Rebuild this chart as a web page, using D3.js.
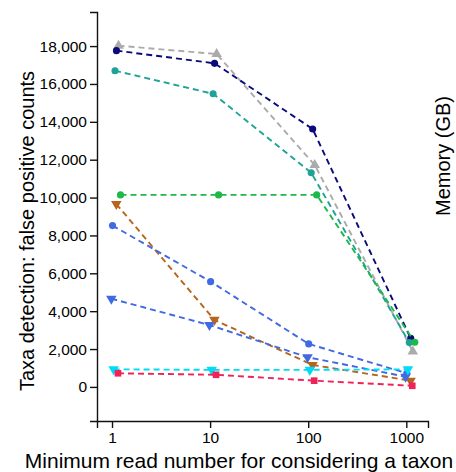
<!DOCTYPE html>
<html>
<head>
<meta charset="utf-8">
<script src="https://cdn.jsdelivr.net/npm/d3@7"></script>
<style>
  body { margin: 0; background: #fff; }
  svg { display: block; font-family: "Liberation Sans", Arial, Helvetica, sans-serif; }
  .axis text { font-size: 15.5px; fill: #000; }
  .axis path, .axis line { stroke: #111; stroke-width: 1.4; }
  .title { fill: #000; }
</style>
</head>
<body>
<svg id="chart" width="456" height="472"></svg>
<script>
// read thresholds
var thresholds = [1, 10, 100, 1000];
var yTicks = [0, 2000, 4000, 6000, 8000, 10000, 12000, 14000, 16000, 18000];

// one array per tool (false positive counts at each threshold)
var grayTri   = [18020, 17580, 11720, 1870];
var navyDot   = [17760, 17090, 13620, 2560];
var tealDot   = [16700, 15480, 11310, 2340];
var greenDot  = [10140, 10140, 10140, 2360];
var brownTri  = [9660, 3540, 1160, 330];
var blueDot   = [8520, 5560, 2270, 720];
var blueTri   = [4660, 3270, 1570, 540];
var cyanTri   = [930, 900, 900, 930];
var redSquare = [720, 640, 330, 60];

// small horizontal offsets so the points don't sit on top of each other
var jitter = [1.165, 1.11, 1.073, 1.22, 1.106, 1.012, 0.984, 1.038, 1.15];

var series = [
  {v: grayTri,   color: "#ababab", shape: "up"},
  {v: navyDot,   color: "#0a0a7a", shape: "circle"},
  {v: tealDot,   color: "#1fa396", shape: "circle"},
  {v: greenDot,  color: "#1db94a", shape: "circle"},
  {v: brownTri,  color: "#b5661c", shape: "down"},
  {v: blueDot,   color: "#4169e1", shape: "circle"},
  {v: blueTri,   color: "#4169e1", shape: "down"},
  {v: cyanTri,   color: "#00dcf5", shape: "down"},
  {v: redSquare, color: "#f0225a", shape: "square"}
];

var svg = d3.select("#chart");

var x = d3.scaleLog().domain([0.703, 1664]).range([97, 428]);
var y = d3.scaleLinear().domain([-1800, 19800]).range([421, 12]);

svg.append("g")
  .attr("class", "axis")
  .attr("transform", "translate(0,421)")
  .call(d3.axisBottom(x).tickValues(thresholds).tickFormat(d3.format("d")).tickSize(7).tickPadding(4));

svg.append("g")
  .attr("class", "axis")
  .attr("transform", "translate(97,0)")
  .call(d3.axisLeft(y).tickValues(yTicks).tickFormat(d3.format(",")).tickSize(7).tickPadding(3));

var line = d3.line()
  .x(function(d) { return x(d.x); })
  .y(function(d) { return y(d.y); });

series.forEach(function(s, i) {
  var pts = s.v.map(function(val, j) { return {x: thresholds[j] * jitter[i], y: val}; });
  svg.append("path")
    .datum(pts)
    .attr("fill", "none")
    .attr("stroke", s.color)
    .attr("stroke-width", 1.9)
    .attr("stroke-dasharray", "6,4")
    .attr("d", line);

  var sym;
  if (s.shape === "circle") sym = d3.symbol().type(d3.symbolCircle).size(40);
  else if (s.shape === "square") sym = d3.symbol().type(d3.symbolSquare).size(44);
  else sym = d3.symbol().type(d3.symbolTriangle).size(48);

  svg.append("g").selectAll("path")
    .data(pts)
    .join("path")
    .attr("d", sym)
    .attr("fill", s.color)
    .attr("transform", function(d) {
      var t = "translate(" + x(d.x) + "," + y(d.y) + ")";
      if (s.shape === "down") t += " rotate(180)";
      return t;
    });
});

svg.append("text")
  .attr("class", "title")
  .attr("x", 239)
  .attr("y", 468)
  .attr("text-anchor", "middle")
  .style("font-size", "21px")
  .text("Minimum read number for considering a taxon");

svg.append("text")
  .attr("class", "title")
  .attr("transform", "translate(34,231) rotate(-90)")
  .attr("text-anchor", "middle")
  .style("font-size", "20px")
  .text("Taxa detection: false positive counts");

svg.append("text")
  .attr("class", "title")
  .attr("transform", "translate(450,156) rotate(-90)")
  .attr("text-anchor", "middle")
  .style("font-size", "20px")
  .text("Memory (GB)");
</script>
</body>
</html>
